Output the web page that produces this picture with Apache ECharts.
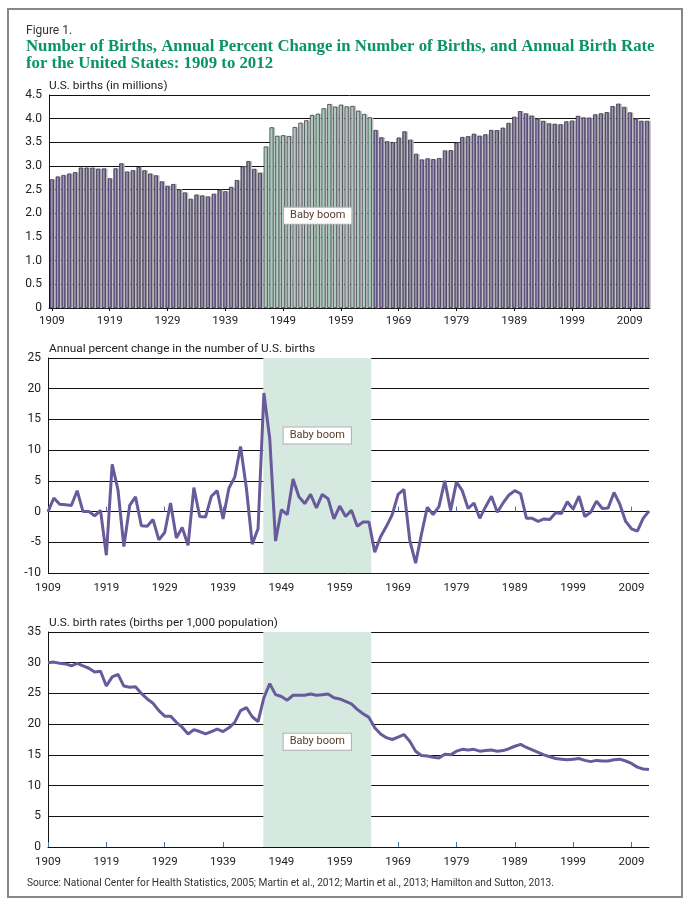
<!DOCTYPE html>
<html><head><meta charset="utf-8">
<script src="https://cdn.jsdelivr.net/npm/echarts@6/dist/echarts.min.js"></script>
<style>html,body{margin:0;padding:0;background:#fff}#c{width:688px;height:909px}</style>
</head><body><div id="c"></div>
<script>
const firstYear = 1909, lastYear = 2012;
const years = [];
for (let y = firstYear; y <= lastYear; y++) years.push(y);
const boomYears = [1946, 1964];
const boomShade = [1945.9, 1964.4];
const xTickYears = [1909, 1919, 1929, 1939, 1949, 1959, 1969, 1979, 1989, 1999, 2009];
const boomLabelAnchor = {year: '1955', births: 1.95};

// U.S. births in millions, 1909-2012
const births = [
  2.718, 2.777, 2.809, 2.840, 2.869, 2.966, 2.965, 2.964, 2.944, 2.948,
  2.740, 2.950, 3.055, 2.882, 2.910, 2.979, 2.909, 2.839, 2.802, 2.674,
  2.582, 2.618, 2.506, 2.440, 2.307, 2.396, 2.377, 2.355, 2.413, 2.496,
  2.466, 2.559, 2.703, 2.989, 3.104, 2.939, 2.858, 3.411, 3.817, 3.637,
  3.649, 3.632, 3.823, 3.913, 3.965, 4.078, 4.104, 4.218, 4.308, 4.255,
  4.295, 4.258, 4.268, 4.167, 4.098, 4.027, 3.760, 3.606, 3.521, 3.502,
  3.600, 3.731, 3.556, 3.258, 3.137, 3.160, 3.144, 3.168, 3.327, 3.333,
  3.494, 3.612, 3.629, 3.681, 3.639, 3.669, 3.761, 3.757, 3.809, 3.910,
  4.041, 4.158, 4.111, 4.065, 4.000, 3.953, 3.900, 3.891, 3.881, 3.942,
  3.959, 4.059, 4.026, 4.022, 4.090, 4.112, 4.138, 4.266, 4.316, 4.248,
  4.131, 3.999, 3.954, 3.953
];

// Annual percent change in number of births, 1909-2012
const pctChange = [
  0.0, 2.2, 1.2, 1.1, 1.0, 3.4, 0.0, 0.0, -0.7, 0.2,
  -7.1, 7.7, 3.5, -5.7, 1.0, 2.4, -2.3, -2.4, -1.3, -4.6,
  -3.4, 1.4, -4.3, -2.6, -5.5, 3.9, -0.8, -0.9, 2.5, 3.4,
  -1.2, 3.8, 5.6, 10.6, 3.8, -5.3, -2.8, 19.3, 11.9, -4.8,
  0.3, -0.5, 5.3, 2.4, 1.3, 2.8, 0.6, 2.8, 2.1, -1.2,
  0.9, -0.8, 0.2, -2.4, -1.7, -1.7, -6.6, -4.1, -2.4, -0.5,
  2.8, 3.6, -4.7, -8.4, -3.7, 0.7, -0.5, 0.8, 5.0, 0.2,
  4.8, 3.4, 0.5, 1.4, -1.1, 0.8, 2.5, -0.1, 1.4, 2.7,
  3.4, 2.9, -1.1, -1.1, -1.6, -1.2, -1.3, -0.2, -0.3, 1.6,
  0.4, 2.5, -0.8, -0.1, 1.7, 0.5, 0.6, 3.1, 1.2, -1.6,
  -2.8, -3.2, -1.1, 0.1
];

// Birth rate per 1,000 population, 1909-2012
const birthRate = [
  30.0, 30.1, 29.9, 29.8, 29.5, 29.9, 29.5, 29.1, 28.5, 28.6,
  26.2, 27.7, 28.1, 26.2, 26.0, 26.1, 25.0, 24.1, 23.4, 22.2,
  21.3, 21.3, 20.3, 19.5, 18.4, 19.1, 18.8, 18.4, 18.8, 19.2,
  18.8, 19.4, 20.3, 22.2, 22.7, 21.2, 20.4, 24.3, 26.6, 24.8,
  24.5, 23.9, 24.7, 24.7, 24.7, 24.9, 24.7, 24.8, 24.9, 24.3,
  24.1, 23.7, 23.3, 22.4, 21.7, 21.1, 19.4, 18.4, 17.8, 17.5,
  17.9, 18.3, 17.2, 15.6, 14.9, 14.8, 14.6, 14.5, 15.1, 15.0,
  15.6, 15.9, 15.8, 15.9, 15.6, 15.7, 15.8, 15.6, 15.7, 16.0,
  16.4, 16.7, 16.2, 15.8, 15.4, 15.0, 14.7, 14.4, 14.3, 14.2,
  14.3, 14.4, 14.1, 13.9, 14.1, 14.0, 14.0, 14.2, 14.3, 14.0,
  13.6, 13.0, 12.7, 12.6
];

const FONT = 'Roboto';
const purple = '#74669a';
const green = '#a6d2bd';
const lineColor = '#695a9b';
const shade = '#d6e9e1';
const grid = '#111';

const chart = echarts.init(document.getElementById('c'), null, {renderer: 'canvas'});

const barData = births.map((v, i) => {
  const y = years[i];
  const boom = y >= boomYears[0] && y <= boomYears[1];
  return {value: v, itemStyle: {color: boom ? green : purple}};
});

const labelBox = {
  show: true, formatter: 'Baby boom',
  backgroundColor: '#fff', borderColor: '#b0b0b0', borderWidth: 1,
  padding: [3, 6, 2, 6], color: '#5a3b2c', fontSize: 11, fontFamily: FONT
};
const boomLabel = (posY) => Object.assign({position: ['50%', posY], align: 'center', verticalAlign: 'middle'}, labelBox);

const yLabel = {color: '#222', fontSize: 12, fontFamily: FONT, margin: 7};
const xLabel = {color: '#222', fontSize: 11.5, fontFamily: FONT};
const splitLine = {show: true, lineStyle: {color: grid, width: 1}};

const valueXAxis = (gi) => ({
  type: 'value', gridIndex: gi, min: firstYear, max: lastYear,
  axisLine: {show: true, lineStyle: {color: grid, width: 1}},
  axisTick: {show: true, inside: true, length: 5, customValues: xTickYears, lineStyle: {color: '#4f6f9f', width: 1}},
  axisLabel: Object.assign({customValues: xTickYears, margin: 9, formatter: (v) => String(v)}, xLabel),
  splitLine: {show: false}
});

const titleText = (text, left, top, extra) => ({
  text, left, top, padding: 0,
  textStyle: Object.assign({fontSize: 11.8, fontWeight: 'normal', color: '#222', fontFamily: FONT}, extra || {})
});

chart.setOption({
  animation: false,
  backgroundColor: '#fff',
  textStyle: {fontFamily: FONT},
  title: [
    titleText('Figure 1.', 26, 25, {fontSize: 12, color: '#333'}),
    titleText('Number of Births, Annual Percent Change in Number of Births, and Annual Birth Rate\nfor the United States: 1909 to 2012',
      26, 38, {fontSize: 16.8, fontWeight: 'bold', color: '#0b9463', fontFamily: 'Liberation Serif', lineHeight: 17}),
    titleText('U.S. births (in millions)', 49, 80),
    titleText('Annual percent change in the number of U.S. births', 49, 343),
    titleText('U.S. birth rates (births per 1,000 population)', 49, 617),
    titleText('Source: National Center for Health Statistics, 2005; Martin et al., 2012; Martin et al., 2013; Hamilton and Sutton, 2013.',
      27, 878, {fontSize: 10.2, color: '#333'})
  ],
  graphic: [
    {type: 'rect', shape: {x: 8, y: 9, width: 674, height: 888}, style: {fill: 'none', stroke: '#888', lineWidth: 2}, silent: true}
  ],
  grid: [
    {left: 49, top: 95, width: 601, height: 213},
    {left: 48, top: 358, width: 601, height: 215},
    {left: 48, top: 632, width: 601, height: 215}
  ],
  xAxis: [
    {type: 'category', gridIndex: 0, data: years.map(String), boundaryGap: true,
     axisLine: {show: true, lineStyle: {color: grid, width: 1}},
     axisTick: {show: true, alignWithLabel: true, length: 3, interval: (i) => i % 10 === 0, lineStyle: {color: grid}},
     axisLabel: Object.assign({interval: (i) => i % 10 === 0, margin: 7}, xLabel)},
    valueXAxis(1),
    valueXAxis(2)
  ],
  yAxis: [
    {type: 'value', gridIndex: 0, min: 0, max: 4.5, interval: 0.5,
     axisLine: {show: true, lineStyle: {color: grid}}, axisTick: {show: false},
     axisLabel: Object.assign({formatter: (v) => v === 0 ? '0' : v.toFixed(1)}, yLabel), splitLine},
    {type: 'value', gridIndex: 1, min: -10, max: 25, interval: 5,
     axisLine: {show: true, lineStyle: {color: grid}}, axisTick: {show: false},
     axisLabel: yLabel, splitLine},
    {type: 'value', gridIndex: 2, min: 0, max: 35, interval: 5,
     axisLine: {show: true, lineStyle: {color: grid}}, axisTick: {show: false},
     axisLabel: yLabel, splitLine}
  ],
  series: [
    {type: 'bar', xAxisIndex: 0, yAxisIndex: 0, data: barData, barWidth: 4,
     itemStyle: {borderColor: '#2c2838', borderWidth: 0.7, shadowColor: '#bdbdbd', shadowOffsetX: 1.6, shadowOffsetY: 0, shadowBlur: 0},
     markPoint: {silent: true, symbol: 'rect', symbolSize: 0, z: 10,
       label: Object.assign({position: 'inside', align: 'center', verticalAlign: 'middle'}, labelBox),
       data: [{coord: [boomLabelAnchor.year, boomLabelAnchor.births]}]}},
    {type: 'line', xAxisIndex: 1, yAxisIndex: 1, data: years.map((y, i) => [y, pctChange[i]]),
     symbol: 'none', lineStyle: {color: lineColor, width: 3}, z: 3,
     markArea: {silent: true, itemStyle: {color: shade}, label: boomLabel('36%'),
       data: [[{xAxis: boomShade[0]}, {xAxis: boomShade[1]}]]}},
    {type: 'line', xAxisIndex: 2, yAxisIndex: 2, data: years.map((y, i) => [y, birthRate[i]]),
     symbol: 'none', lineStyle: {color: lineColor, width: 3}, z: 3,
     markArea: {silent: true, itemStyle: {color: shade}, label: boomLabel('51%'),
       data: [[{xAxis: boomShade[0]}, {xAxis: boomShade[1]}]]}}
  ]
});
</script></body></html>
